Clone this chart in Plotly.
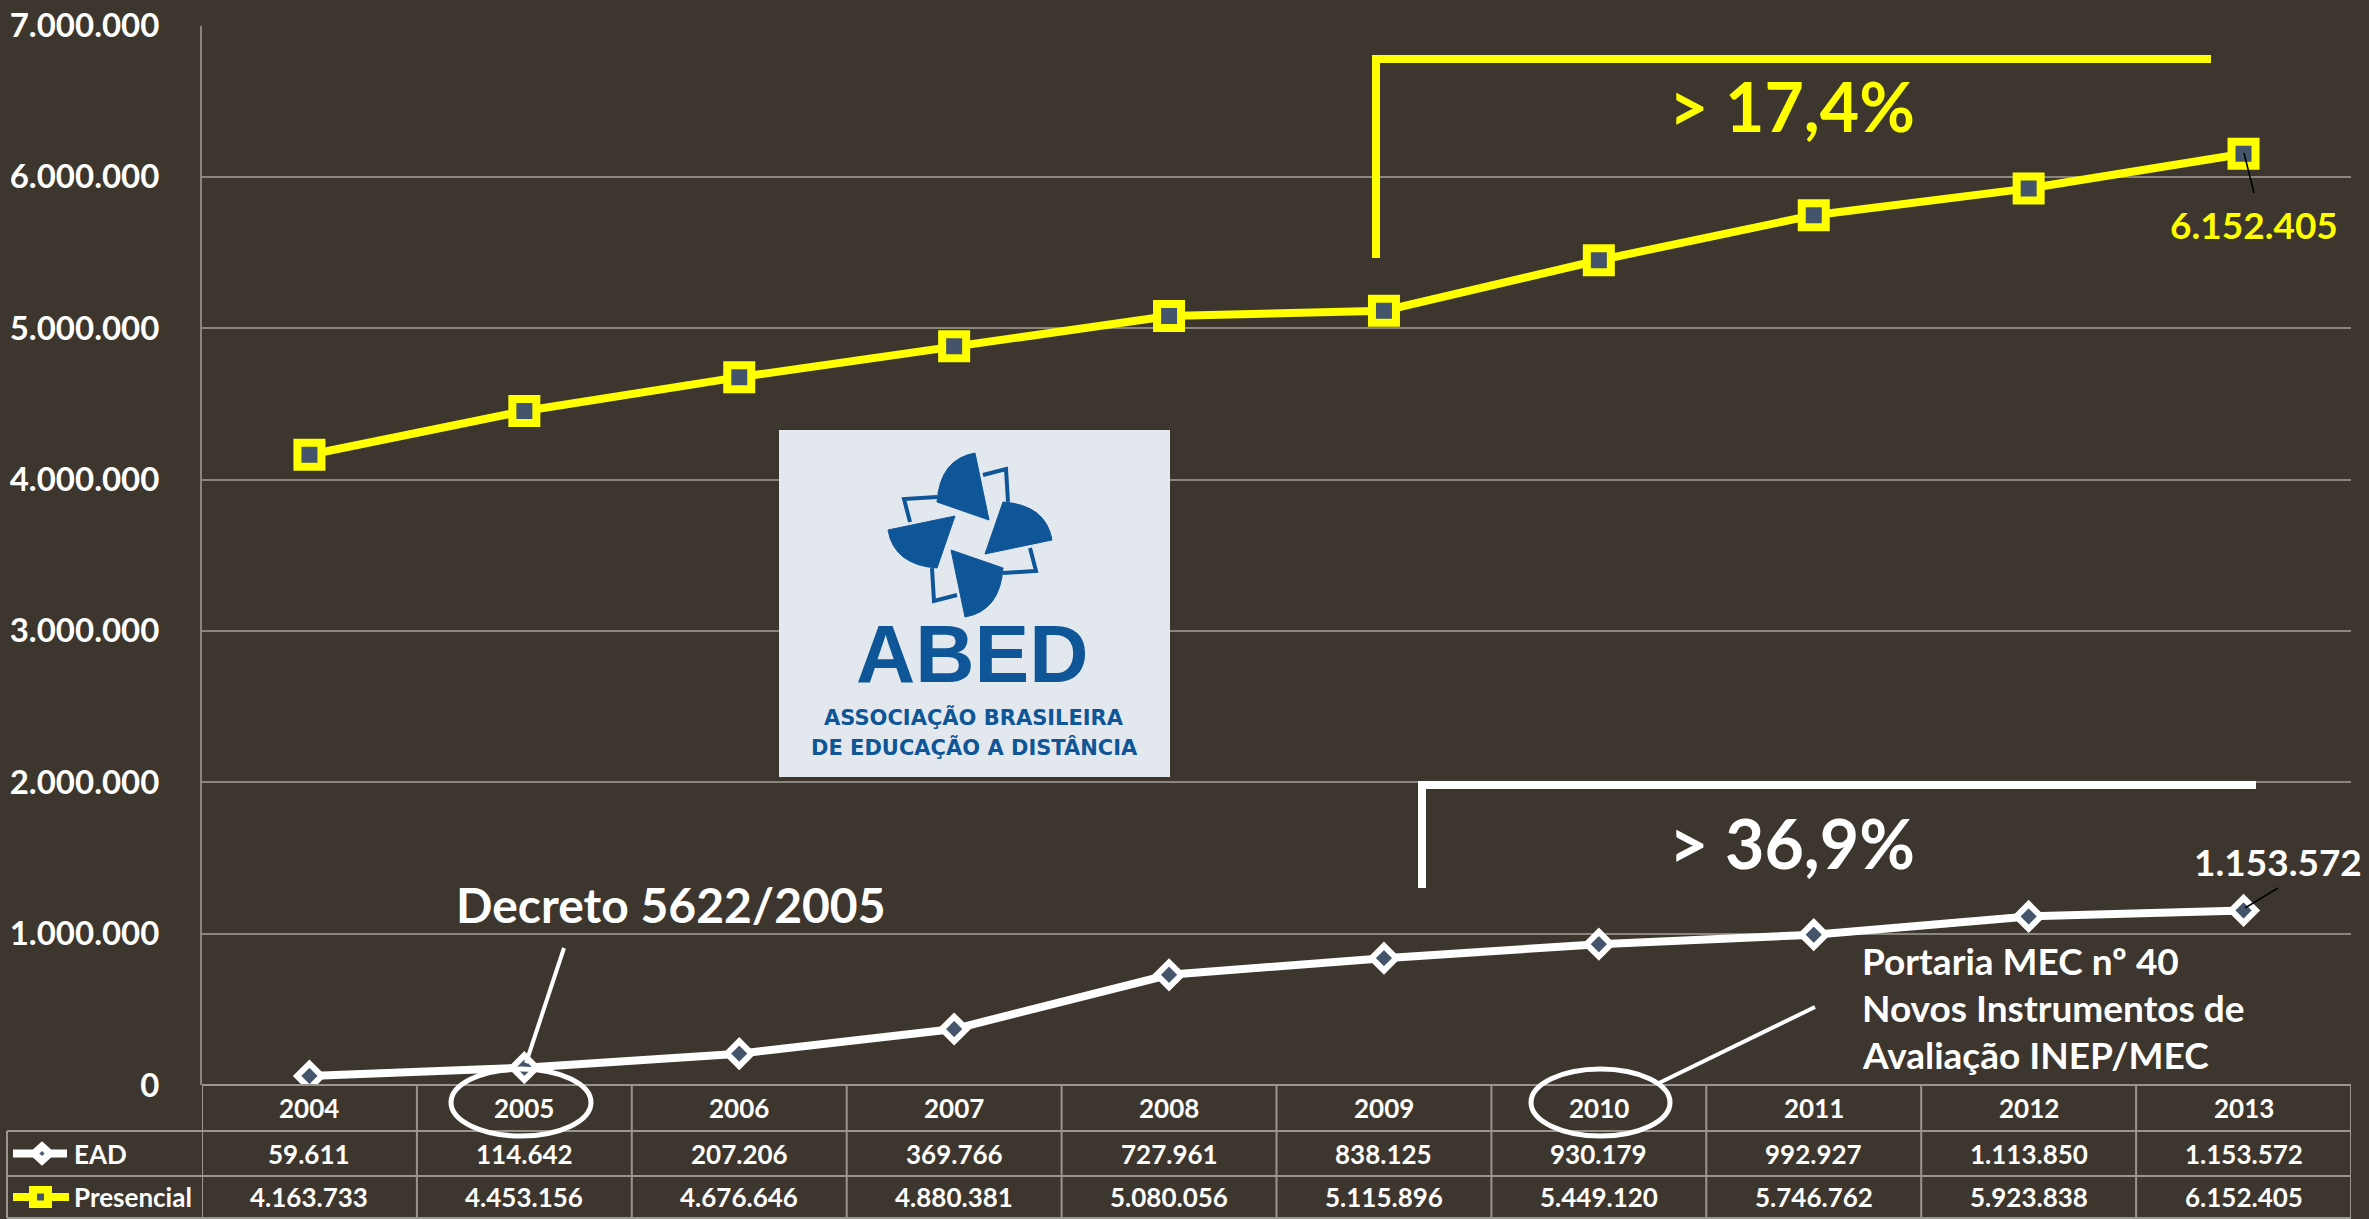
import plotly.graph_objects as go

years = ["2004", "2005", "2006", "2007", "2008", "2009", "2010", "2011", "2012", "2013"]
ead = [59611, 114642, 207206, 369766, 727961, 838125, 930179, 992927, 1113850, 1153572]
presencial = [4163733, 4453156, 4676646, 4880381, 5080056, 5115896, 5449120, 5746762, 5923838, 6152405]
y_ticks = [0, 1000000, 2000000, 3000000, 4000000, 5000000, 6000000, 7000000]

W, H = 2369, 1219
BG = "#3d362e"
GRID = "#8a857e"
TBL = "#9a958f"
YEL = "#ffff00"
WHT = "#ffffff"
MK = "#44546a"
BLUE = "#0e5697"
FONT = "Lato"

def X(x):
    return x / W

def Y(y):
    return 1 - y / H

def fmt(v):
    return f"{v:,}".replace(",", ".")

def ann(x, y, text, font, xanchor="center", xref="paper"):
    return dict(x=x, y=y, xref=xref, yref="paper", text=text, showarrow=False,
                xanchor=xanchor, yanchor="middle", font=font)

x_dom = [202 / W, 2351 / W]
y_dom = [(H - 1085) / H, (H - 25.5) / H]

fig = go.Figure()
fig.add_trace(go.Scatter(
    x=years, y=presencial, mode="lines+markers", name="Presencial",
    line=dict(color=YEL, width=8),
    marker=dict(symbol="square", size=24, color=MK, line=dict(color=YEL, width=8)),
    hoverinfo="skip", showlegend=False))
fig.add_trace(go.Scatter(
    x=years, y=ead, mode="lines+markers", name="EAD",
    line=dict(color=WHT, width=8),
    marker=dict(symbol="diamond", size=19, color=MK, line=dict(color=WHT, width=6)),
    hoverinfo="skip", showlegend=False))

shapes = []
annotations = []

# ---- table ----
row_top, row1, row2, row_bot = 1085, 1131, 1176, 1218
n = len(years)
for i in range(n + 1):
    shapes.append(dict(type="line", xref="x", yref="paper", x0=i - 0.5, x1=i - 0.5,
                       y0=Y(row_top), y1=Y(row_bot), line=dict(color=TBL, width=2)))
for yy in (row1, row2, row_bot):
    shapes.append(dict(type="line", xref="paper", yref="paper", x0=X(7), x1=X(2351),
                       y0=Y(yy), y1=Y(yy), line=dict(color=TBL, width=2)))
shapes.append(dict(type="line", xref="paper", yref="paper", x0=X(7), x1=X(7),
                   y0=Y(row1), y1=Y(row_bot), line=dict(color=TBL, width=2)))
shapes.append(dict(type="line", xref="x", yref="paper", x0=-0.5, x1=n - 0.5,
                   y0=Y(row_top), y1=Y(row_top), line=dict(color=TBL, width=2)))

tfont = dict(family=FONT, size=26, color=WHT, weight="bold")
cy0 = (row_top + row1) / 2
cy1 = (row1 + row2) / 2
cy2 = (row2 + row_bot) / 2
for i, yr in enumerate(years):
    annotations.append(ann(i, Y(cy0), yr, tfont, xref="x"))
    annotations.append(ann(i, Y(cy1), fmt(ead[i]), tfont, xref="x"))
    annotations.append(ann(i, Y(cy2), fmt(presencial[i]), tfont, xref="x"))
annotations.append(ann(X(72), Y(cy1), "EAD", tfont, xanchor="left"))
annotations.append(ann(X(72), Y(cy2), "Presencial", tfont, xanchor="left"))
# legend icons
shapes.append(dict(type="line", xref="paper", yref="paper", x0=X(13), x1=X(67),
                   y0=Y(cy1), y1=Y(cy1), line=dict(color=WHT, width=8)))
shapes.append(dict(type="path", xref="paper", yref="paper",
                   path=f"M {X(30)},{Y(cy1)} L {X(42)},{Y(cy1-11)} L {X(54)},{Y(cy1)} L {X(42)},{Y(cy1+11)} Z",
                   fillcolor=WHT, line=dict(color=WHT, width=2)))
shapes.append(dict(type="path", xref="paper", yref="paper",
                   path=f"M {X(40)},{Y(cy1)} L {X(42)},{Y(cy1-2)} L {X(44)},{Y(cy1)} L {X(42)},{Y(cy1+2)} Z",
                   fillcolor=MK, line=dict(color=MK, width=1)))
shapes.append(dict(type="line", xref="paper", yref="paper", x0=X(13), x1=X(69),
                   y0=Y(cy2), y1=Y(cy2), line=dict(color=YEL, width=8)))
shapes.append(dict(type="rect", xref="paper", yref="paper", x0=X(30), x1=X(51),
                   y0=Y(cy2 - 10), y1=Y(cy2 + 10), fillcolor=YEL, line=dict(color=YEL, width=2)))
shapes.append(dict(type="rect", xref="paper", yref="paper", x0=X(37), x1=X(44),
                   y0=Y(cy2 - 3.5), y1=Y(cy2 + 3.5), fillcolor=MK, line=dict(width=0)))

# ---- brackets ----
shapes.append(dict(type="line", xref="paper", yref="paper", x0=X(1376), x1=X(1376),
                   y0=Y(55), y1=Y(258), line=dict(color=YEL, width=8)))
shapes.append(dict(type="line", xref="paper", yref="paper", x0=X(1372), x1=X(2211),
                   y0=Y(59), y1=Y(59), line=dict(color=YEL, width=8)))
shapes.append(dict(type="line", xref="paper", yref="paper", x0=X(1422), x1=X(1422),
                   y0=Y(781), y1=Y(888), line=dict(color=WHT, width=8)))
shapes.append(dict(type="line", xref="paper", yref="paper", x0=X(1418), x1=X(2256),
                   y0=Y(785), y1=Y(785), line=dict(color=WHT, width=8)))

annotations.append(ann(X(1792), Y(106), "> 17,4%", dict(family=FONT, size=68, color=YEL, weight="bold")))
annotations.append(ann(X(1792), Y(843), "> 36,9%", dict(family=FONT, size=68, color=WHT, weight="bold")))

# value labels with leader lines
annotations.append(ann(X(2254), Y(224), fmt(presencial[-1]), dict(family=FONT, size=37, color=YEL, weight="bold")))
shapes.append(dict(type="line", xref="paper", yref="paper", x0=X(2244), x1=X(2254),
                   y0=Y(153), y1=Y(193), line=dict(color="#000000", width=1.5)))
annotations.append(ann(X(2278), Y(861), fmt(ead[-1]), dict(family=FONT, size=37, color=WHT, weight="bold")))
shapes.append(dict(type="line", xref="paper", yref="paper", x0=X(2245), x1=X(2278),
                   y0=Y(908), y1=Y(888), line=dict(color="#000000", width=1.5)))

# Decreto annotation
annotations.append(ann(X(454), Y(904), "Decreto 5622/2005",
                       dict(family=FONT, size=48, color=WHT, weight="bold"), xanchor="left"))
shapes.append(dict(type="line", xref="paper", yref="paper", x0=X(564), x1=X(526),
                   y0=Y(948), y1=Y(1063), line=dict(color=WHT, width=4)))
shapes.append(dict(type="circle", xref="paper", yref="paper", x0=X(451), x1=X(591),
                   y0=Y(1069), y1=Y(1136), line=dict(color=WHT, width=5)))

# Portaria annotation
pfont = dict(family=FONT, size=37, color=WHT, weight="bold")
for txt, yy in (("Portaria MEC nº 40", 960), ("Novos Instrumentos de", 1007), ("Avaliação INEP/MEC", 1054)):
    annotations.append(ann(X(1860), Y(yy), txt, pfont, xanchor="left"))
shapes.append(dict(type="line", xref="paper", yref="paper", x0=X(1815), x1=X(1659),
                   y0=Y(1007), y1=Y(1083), line=dict(color=WHT, width=4)))
shapes.append(dict(type="circle", xref="paper", yref="paper", x0=X(1531), x1=X(1670),
                   y0=Y(1069), y1=Y(1136), line=dict(color=WHT, width=5)))

# ---- ABED logo ----
shapes.append(dict(type="rect", xref="paper", yref="paper", x0=X(779), x1=X(1170),
                   y0=Y(430), y1=Y(777), fillcolor="#e3e8ef", line=dict(width=0)))
cx, cy = 970, 535

def rot(p, k):
    x, y = p
    for _ in range(k):
        x, y = -y, x
    return x, y

def P(p):
    return f"{X(cx + p[0]):.5f},{Y(cy + p[1]):.5f}"

blade = [(19, -15), (5, -82), (-30, -76), (-33, -33)]
brk = [(13, -60), (36, -66), (38, -33)]
for k in range(4):
    V, T, C, A = [rot(p, k) for p in blade]
    shapes.append(dict(type="path", xref="paper", yref="paper",
                       path=f"M {P(V)} L {P(T)} Q {P(C)} {P(A)} Z",
                       fillcolor=BLUE, line=dict(color=BLUE, width=1)))
    b = [rot(p, k) for p in brk]
    shapes.append(dict(type="path", xref="paper", yref="paper",
                       path=f"M {P(b[0])} L {P(b[1])} L {P(b[2])}",
                       line=dict(color=BLUE, width=4)))
annotations.append(ann(X(972), Y(654), "ABED", dict(family="Liberation Sans", size=82, color=BLUE, weight="bold")))
annotations.append(ann(X(974), Y(717), "ASSOCIAÇÃO BRASILEIRA", dict(family="DejaVu Sans", size=21, color=BLUE, weight="bold")))
annotations.append(ann(X(974), Y(747), "DE EDUCAÇÃO A DISTÂNCIA", dict(family="DejaVu Sans", size=21, color=BLUE, weight="bold")))

fig.update_layout(
    width=W, height=H,
    margin=dict(l=0, r=0, t=0, b=0, pad=0),
    paper_bgcolor=BG, plot_bgcolor=BG,
    separators=",.",
    showlegend=False,
    xaxis=dict(domain=x_dom, type="category", range=[-0.5, n - 0.5], automargin=False,
               showgrid=False, showline=False, zeroline=False, showticklabels=False, fixedrange=True),
    yaxis=dict(domain=y_dom, range=[0, 7000000], tickvals=y_ticks, tickformat=",d", automargin=False,
               showgrid=True, gridcolor=GRID, gridwidth=2, zeroline=False,
               showline=True, linecolor=GRID, linewidth=2,
               ticks="", ticklabelstandoff=34,
               tickfont=dict(family=FONT, size=33, color=WHT, weight="bold")),
    shapes=shapes,
    annotations=annotations,
)

fig.write_html("out.html", config={"displayModeBar": False},
               post_script="document.body.style.margin='0';document.body.style.overflow='hidden';")
